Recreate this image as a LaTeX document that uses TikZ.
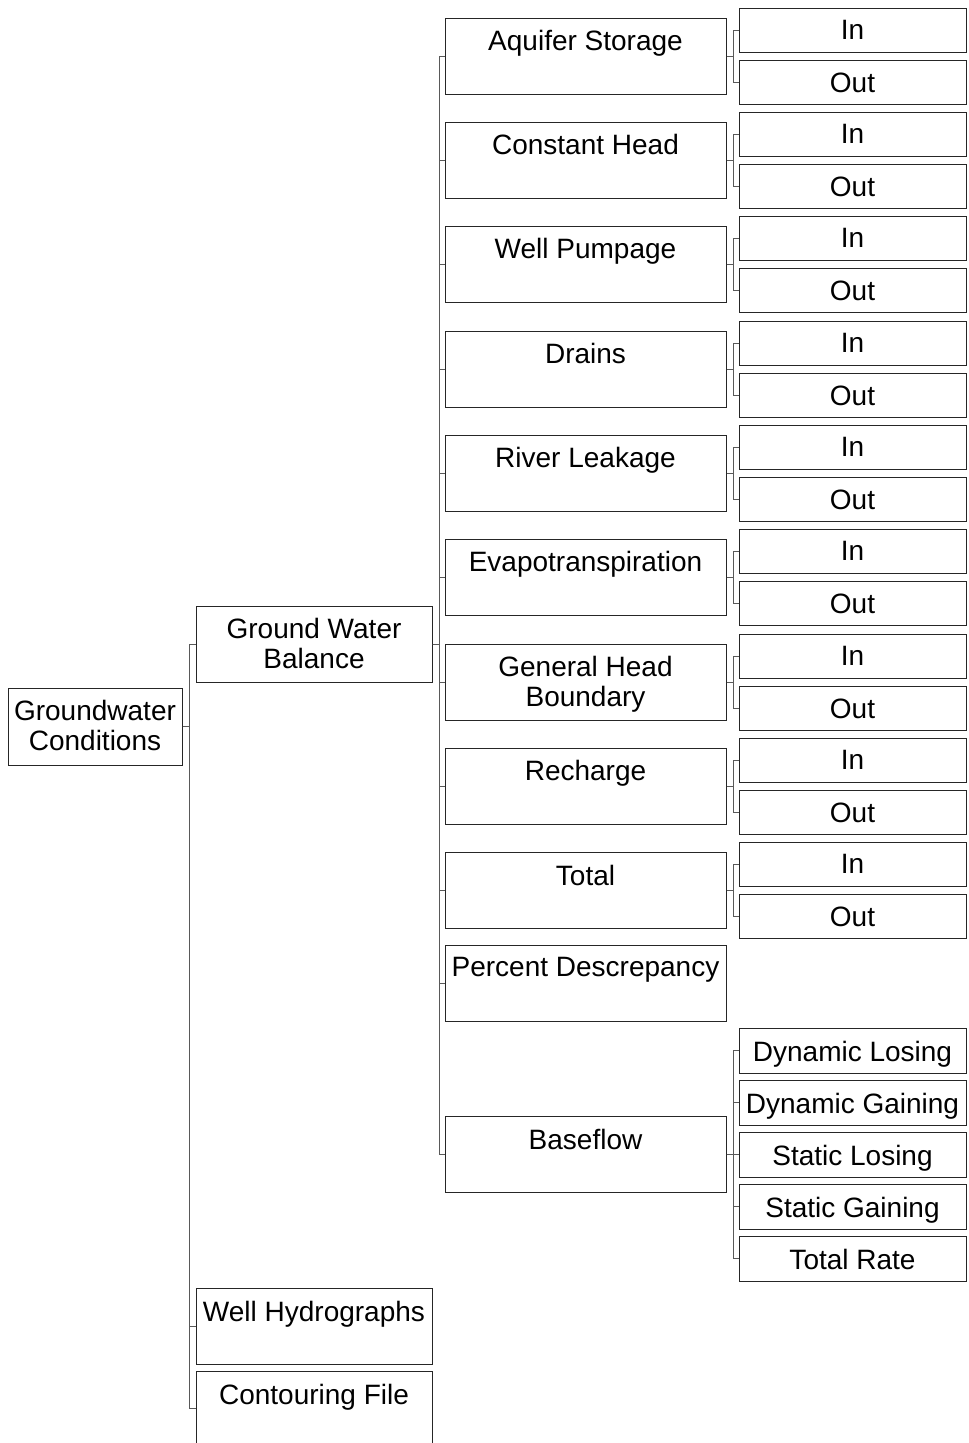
\documentclass[tikz,border=0pt]{standalone}
\usepackage{fontspec}
\setmainfont{Liberation Sans}
\newcommand\bx[6]{%
  \node[box, minimum width={((#4)-(#2))*1pt}, minimum height={((#5)-(#3))*1pt}] (#1) at ({((#2)+(#4))/2},{((#3)+(#5))/2}) {};
  \node[lab, anchor=north] (#1-t) at ([yshift=-13pt]#1.north) {#6};
}
\newcommand\inout[2]{%
  \bx{#1-i}{739}{#2-48}{966}{#2-4}{In}
  \bx{#1-o}{739}{#2+4}{966}{#2+48}{Out}
  \draw[conn] (#1.east) -- ++(7,0) |- (#1-i.west);
  \draw[conn] (#1.east) -- ++(7,0) |- (#1-o.west);
}
\begin{document}
\begin{tikzpicture}[x=1pt,y=-1pt,
  box/.style={draw=black!85, line width=1pt, rectangle, inner sep=0pt},
  lab/.style={font=\fontsize{28}{30}\selectfont, inner sep=0pt, align=center, text=black},
  conn/.style={draw=black!65, line width=1pt}]
\useasboundingbox (0,0) rectangle (969,1443);
% level 1
\bx{gc}{8}{688}{182}{765}{Groundwater\\Conditions}
% level 2
\bx{gwb}{196}{606}{432}{682}{Ground Water\\Balance}
\bx{wh}{196}{1288}{432}{1364}{Well Hydrographs}
\bx{cf}{196}{1371}{432}{1445}{Contouring File}
\foreach \c in {gwb,wh,cf} \draw[conn] (gc.east) -- ++(7,0) |- (\c.west);
% level 3
\bx{as}{445}{18}{726}{94}{Aquifer Storage}
\bx{ch}{445}{122}{726}{198}{Constant Head}
\bx{wp}{445}{226}{726}{302}{Well Pumpage}
\bx{dr}{445}{331}{726}{407}{Drains}
\bx{rl}{445}{435}{726}{511}{River Leakage}
\bx{et}{445}{539}{726}{615}{Evapotranspiration}
\bx{ghb}{445}{644}{726}{720}{General Head\\Boundary}
\bx{rc}{445}{748}{726}{824}{Recharge}
\bx{tot}{445}{852}{726}{928}{Total}
\bx{pd}{445}{945}{726}{1021}{Percent Descrepancy}
\bx{bf}{445}{1116}{726}{1192}{Baseflow}
\foreach \c in {as,ch,wp,dr,rl,et,ghb,rc,tot,pd,bf} \draw[conn] (gwb.east) -- ++(7,0) |- (\c.west);
% level 4
\inout{as}{56}
\inout{ch}{160}
\inout{wp}{264}
\inout{dr}{369}
\inout{rl}{473}
\inout{et}{577}
\inout{ghb}{682}
\inout{rc}{786}
\inout{tot}{890}
\bx{dl}{739}{1028}{966}{1073}{Dynamic Losing}
\bx{dg}{739}{1080}{966}{1125}{Dynamic Gaining}
\bx{sl}{739}{1132}{966}{1177}{Static Losing}
\bx{sg}{739}{1184}{966}{1229}{Static Gaining}
\bx{tr}{739}{1236}{966}{1281}{Total Rate}
\foreach \c in {dl,dg,sl,sg,tr} \draw[conn] (bf.east) -- ++(7,0) |- (\c.west);
\end{tikzpicture}
\end{document}
